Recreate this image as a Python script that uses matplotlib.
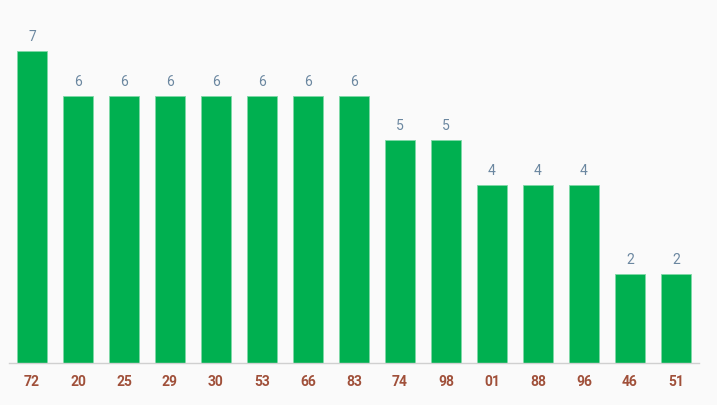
import matplotlib
matplotlib.use("Agg")
import matplotlib.pyplot as plt

plt.rcParams['font.family'] = ['Roboto', 'DejaVu Sans']

# data
labels = ['72', '20', '25', '29', '30', '53', '66', '83', '74', '98', '01', '88', '96', '46', '51']
counts = [7, 6, 6, 6, 6, 6, 6, 6, 5, 5, 4, 4, 4, 2, 2]

bg = '#fafafa'
fig = plt.figure(figsize=(7.17, 4.05), dpi=100, facecolor=bg)
ax = fig.add_axes([9 / 717, 42 / 405, 690 / 717, 363 / 405], facecolor=bg)

x = range(len(labels))
bars = ax.bar(x, counts, width=30 / 46, color='#00b050', edgecolor='#7fd8a7', linewidth=0.6)

# value labels above bars
for xi, v in zip(x, counts):
    ax.annotate(str(v), (xi, v), xytext=(0, 5), textcoords='offset points',
                ha='center', va='bottom', fontsize=10, color='#6b87a0')

ax.set_xlim(-0.5, len(labels) - 0.5)
ax.set_ylim(0, 363 / 44.57)
ax.set_xticks(list(x))
ax.set_xticklabels(labels, fontsize=10, fontweight='bold', color='#a0503a')
ax.tick_params(axis='x', length=0, pad=9)
ax.set_yticks([])

for side in ['top', 'right', 'left']:
    ax.spines[side].set_visible(False)
ax.spines['bottom'].set_color('#d0d0d0')
ax.spines['bottom'].set_linewidth(1)

fig.savefig('out.png', dpi=100, facecolor=bg)
